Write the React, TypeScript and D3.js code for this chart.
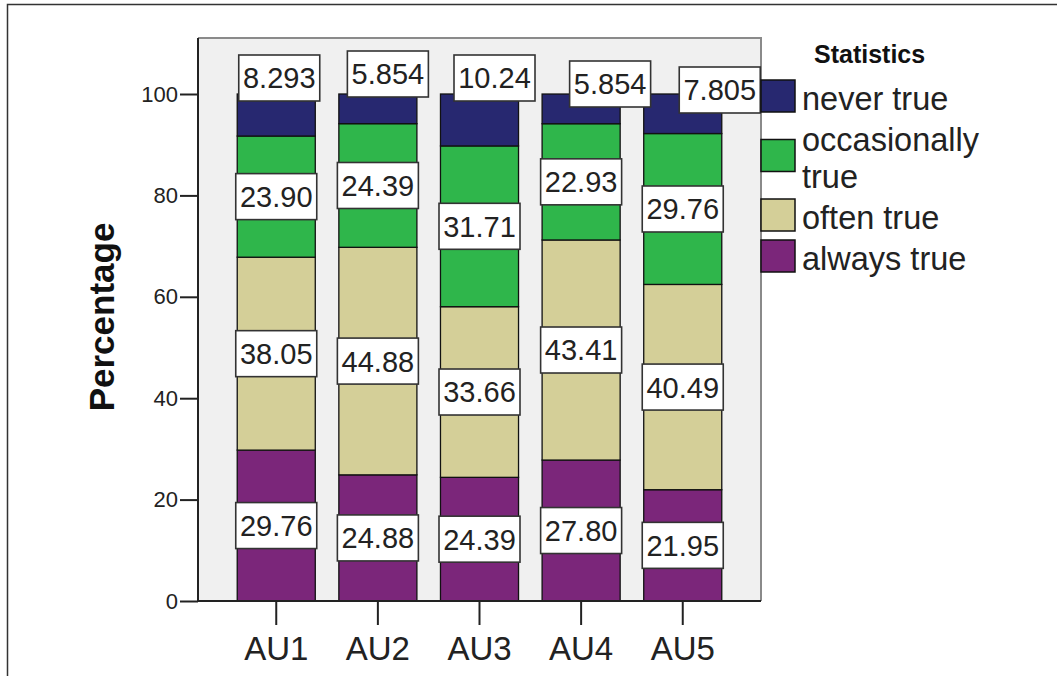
import React, { useRef, useEffect } from "react";
import * as d3 from "d3";

// chart data
const groups = ["AU1", "AU2", "AU3", "AU4", "AU5"];
const seriesNames = ["always true", "often true", "occasionally true", "never true"];
const alwaysTrue = [29.76, 24.88, 24.39, 27.8, 21.95];
const oftenTrue = [38.05, 44.88, 33.66, 43.41, 40.49];
const occasionallyTrue = [23.9, 24.39, 31.71, 22.93, 29.76];
const neverTrue = [8.293, 5.854, 10.24, 5.854, 7.805];
const yTicks = [0, 20, 40, 60, 80, 100];

const colors = ["#7b267a", "#d4cf98", "#2fb64b", "#272870"];
// SPSS pushes the top labels up/right so they don't collide
const topLabelShift = [[3, -16], [10, -20], [15, -16], [29, -10], [37, -4]];

const FONT = "Arial, 'Liberation Sans', Helvetica, sans-serif";

const App = () => {
  const chartRef = useRef(null);

  useEffect(() => {
    const container = d3.select(chartRef.current);
    container.select("svg").remove();

    const width = 1057;
    const height = 676;
    const plot = { left: 198, right: 761, top: 38, bottom: 601 };

    const svg = container
      .append("svg")
      .attr("width", width)
      .attr("height", height)
      .style("position", "absolute")
      .style("left", 0)
      .style("top", 0)
      .style("font-family", FONT);

    svg.append("rect").attr("width", width).attr("height", height).attr("fill", "#fff");

    // outer frame (only top & left visible)
    svg
      .append("path")
      .attr("d", `M7.5,${height} V4.5 H${width}`)
      .attr("fill", "none")
      .attr("stroke", "#333")
      .attr("stroke-width", 1.5);

    const x = d3
      .scaleBand()
      .domain(groups)
      .range([plot.left, plot.right])
      .paddingInner(0.232)
      .paddingOuter(0.386);

    const y = d3.scaleLinear().domain([0, 100]).range([plot.bottom, 94]);

    // plot background
    svg
      .append("rect")
      .attr("x", plot.left)
      .attr("y", plot.top)
      .attr("width", plot.right - plot.left)
      .attr("height", plot.bottom - plot.top)
      .attr("fill", "#f0f0f0");
    svg
      .append("path")
      .attr("d", `M${plot.left},${plot.top} H${plot.right} V${plot.bottom}`)
      .attr("fill", "none")
      .attr("stroke", "#8a8a8a")
      .attr("stroke-width", 2);

    // stacked table
    const table = groups.map((g, i) => ({
      group: g,
      "always true": alwaysTrue[i],
      "often true": oftenTrue[i],
      "occasionally true": occasionallyTrue[i],
      "never true": neverTrue[i],
    }));
    const stacked = d3.stack<any>().keys(seriesNames)(table);

    const layers = svg
      .selectAll(".layer")
      .data(stacked)
      .enter()
      .append("g")
      .attr("class", "layer")
      .attr("fill", (_d, i) => colors[i]);

    layers
      .selectAll("rect")
      .data((d) => d)
      .enter()
      .append("rect")
      .attr("x", (d: any) => x(d.data.group) as number)
      .attr("y", (d) => y(Math.min(d[1], 100)))
      .attr("width", x.bandwidth())
      .attr("height", (d) => y(d[0]) - y(Math.min(d[1], 100)))
      .attr("stroke", "#111")
      .attr("stroke-width", 1.3);

    // axes
    const yAxis = d3
      .axisLeft(y)
      .tickValues(yTicks)
      .tickSize(18)
      .tickPadding(2)
      .tickFormat(d3.format("d"));
    const gy = svg.append("g").attr("transform", `translate(${plot.left},0)`).call(yAxis);
    gy.select(".domain").remove();
    gy.selectAll("line").attr("stroke", "#222").attr("stroke-width", 2);
    gy.selectAll("text")
      .attr("font-size", 22)
      .attr("font-family", FONT)
      .attr("fill", "#222");

    const xAxis = d3.axisBottom(x).tickSize(24).tickPadding(12);
    const gx = svg.append("g").attr("transform", `translate(0,${plot.bottom})`).call(xAxis);
    gx.select(".domain").remove();
    gx.selectAll("line").attr("stroke", "#222").attr("stroke-width", 2);
    gx.selectAll("text")
      .attr("font-size", 33)
      .attr("font-family", FONT)
      .attr("fill", "#222");

    svg
      .append("path")
      .attr("d", `M${plot.left},${plot.top} V${plot.bottom} H${plot.right}`)
      .attr("fill", "none")
      .attr("stroke", "#222")
      .attr("stroke-width", 2);

    svg
      .append("text")
      .attr("transform", `translate(114,317) rotate(-90)`)
      .attr("text-anchor", "middle")
      .attr("font-size", 35)
      .attr("font-weight", "bold")
      .attr("fill", "#111")
      .text("Percentage");

    // value labels
    const fmt = d3.format(".4g");
    const boxW = 81;
    const boxH = 46;
    stacked.forEach((layer, li) => {
      layer.forEach((d: any, gi) => {
        let cx = (x(d.data.group) as number) + x.bandwidth() / 2;
        let cy = y((d[0] + d[1]) / 2);
        if (li === stacked.length - 1) {
          cx += topLabelShift[gi][0];
          cy = y(100) + topLabelShift[gi][1];
        }
        const g = svg.append("g").attr("transform", `translate(${cx},${cy})`);
        g.append("rect")
          .attr("x", -boxW / 2)
          .attr("y", -boxH / 2)
          .attr("width", boxW)
          .attr("height", boxH)
          .attr("fill", "#fff")
          .attr("stroke", "#333")
          .attr("stroke-width", 1.6);
        g.append("text")
          .attr("text-anchor", "middle")
          .attr("dy", "0.36em")
          .attr("font-size", 29)
          .attr("fill", "#222")
          .text(fmt(d[1] - d[0]));
      });
    });

    // legend
    const legend = svg.append("g");
    legend
      .append("text")
      .attr("x", 814)
      .attr("y", 63)
      .attr("font-size", 25)
      .attr("font-weight", "bold")
      .attr("fill", "#111")
      .text("Statistics");

    const legendItems = [
      { name: "never true", lines: ["never true"], color: colors[3] },
      { name: "occasionally true", lines: ["occasionally", "true"], color: colors[2] },
      { name: "often true", lines: ["often true"], color: colors[1] },
      { name: "always true", lines: ["always true"], color: colors[0] },
    ];
    let baseline = 110;
    legendItems.forEach((item) => {
      const baselines = item.lines.map((_l, k) => baseline + k * 37);
      const mid = d3.mean(baselines) as number;
      legend
        .append("rect")
        .attr("x", 761)
        .attr("y", mid - 14 - 16)
        .attr("width", 34)
        .attr("height", 32)
        .attr("fill", item.color)
        .attr("stroke", "#111")
        .attr("stroke-width", 1.5);
      item.lines.forEach((line, k) => {
        legend
          .append("text")
          .attr("x", 802)
          .attr("y", baselines[k])
          .attr("font-size", 32.5)
          .attr("fill", "#222")
          .text(line);
      });
      baseline = baselines[baselines.length - 1] + 41;
    });
  }, []);

  return <div ref={chartRef} />;
};

export default App;
